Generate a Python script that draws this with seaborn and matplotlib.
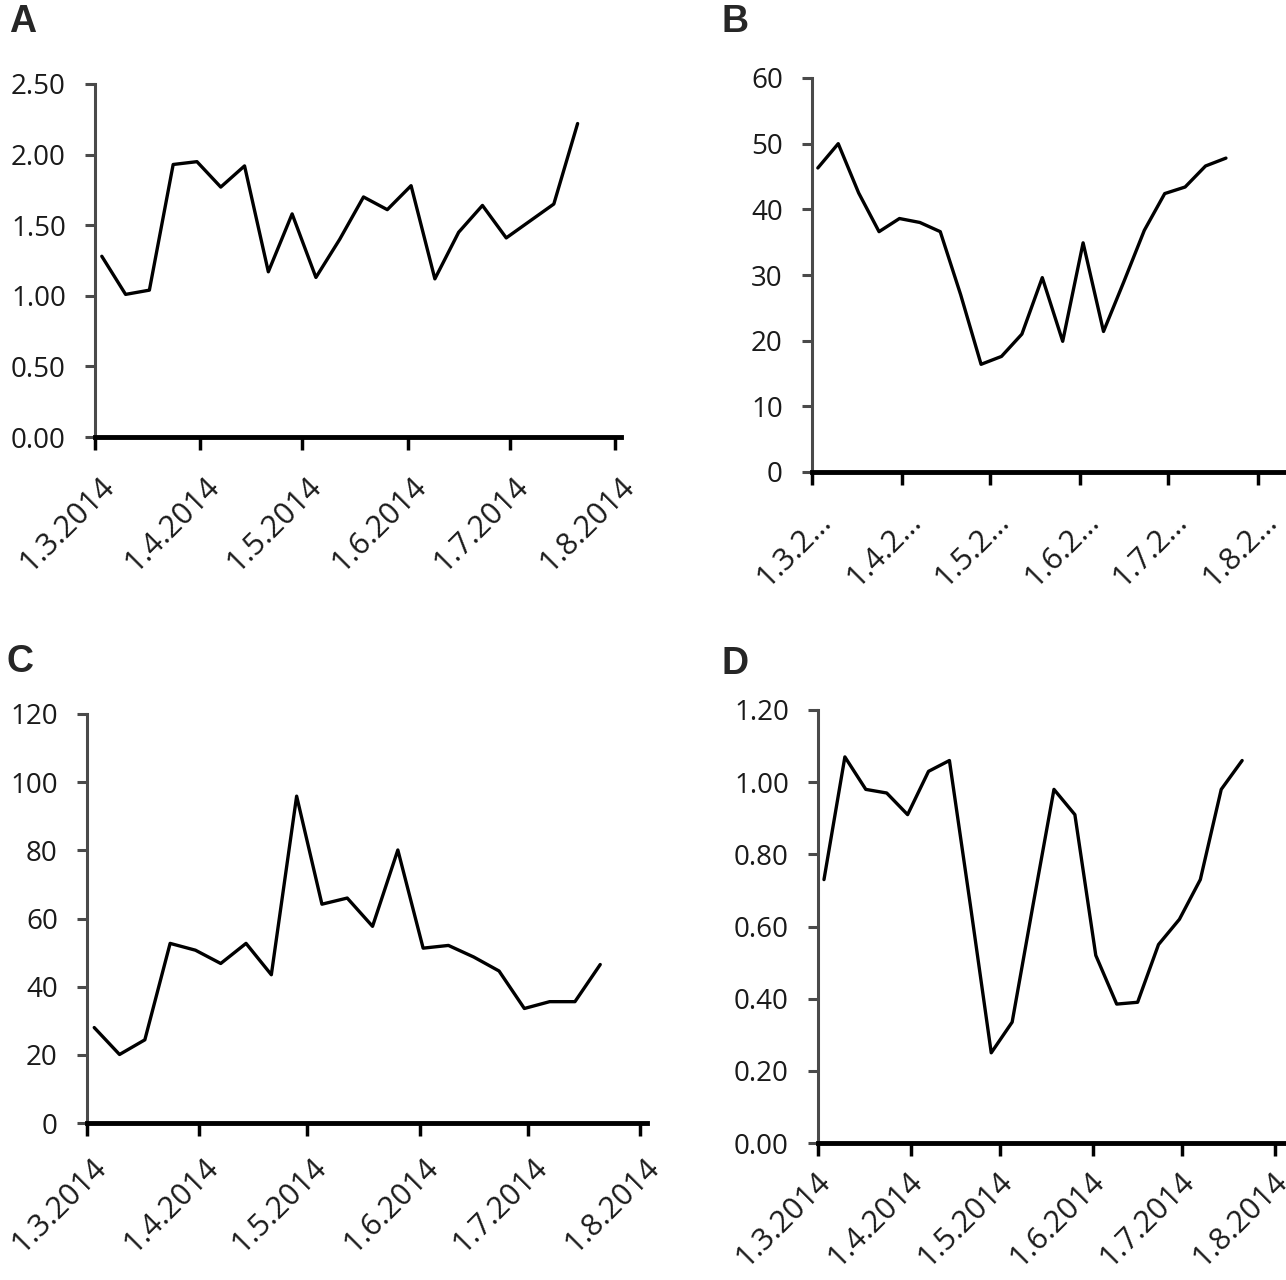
import matplotlib
matplotlib.use("Agg")
import matplotlib.pyplot as plt
import matplotlib.dates as mdates
import matplotlib.transforms as mtransforms
from matplotlib.ticker import FuncFormatter, MultipleLocator
import pandas as pd
import seaborn as sns

# weekly sampling dates
dates = ["2014-03-03", "2014-03-10", "2014-03-17", "2014-03-24", "2014-03-31",
         "2014-04-07", "2014-04-14", "2014-04-21", "2014-04-28", "2014-05-05",
         "2014-05-12", "2014-05-19", "2014-05-26", "2014-06-02", "2014-06-09",
         "2014-06-16", "2014-06-23", "2014-06-30", "2014-07-07", "2014-07-14",
         "2014-07-21"]

series_a = [1.28, 1.01, 1.04, 1.93, 1.95, 1.77, 1.92, 1.17, 1.58, 1.13, 1.40,
            1.70, 1.61, 1.78, 1.12, 1.45, 1.64, 1.41, 1.53, 1.65, 2.22]
series_b = [46.3, 50.0, 42.5, 36.6, 38.6, 38.0, 36.6, 27.0, 16.4, 17.6, 21.0,
            29.6, 19.9, 34.9, 21.4, 29.0, 36.8, 42.4, 43.4, 46.6, 47.8]
series_c = [28.0, 20.1, 24.4, 52.7, 50.7, 46.8, 52.7, 43.5, 95.9, 64.2, 66.0,
            57.7, 80.1, 51.3, 52.1, 48.7, 44.6, 33.6, 35.6, 35.6, 46.5]
series_d = [0.73, 1.07, 0.98, 0.97, 0.91, 1.03, 1.06, 0.66, 0.25, 0.335, 0.66,
            0.98, 0.91, 0.52, 0.385, 0.39, 0.55, 0.62, 0.73, 0.98, 1.06]

month_ticks = ["2014-03-01", "2014-04-01", "2014-05-01", "2014-06-01",
               "2014-07-01", "2014-08-01"]

df = pd.DataFrame({"date": pd.to_datetime(dates), "A": series_a, "B": series_b,
                   "C": series_c, "D": series_d})

sns.set_style("white")
plt.rcParams["font.family"] = ["Open Sans", "DejaVu Sans"]

W, H = 1286, 1280
fig = plt.figure(figsize=(W / 100, H / 100), dpi=100)

# panel, left, right, top, bottom (px), x of 1.8 tick, y max, y step, fmt,
# short labels, letter position (px), label pad, label shift (in)
panels = [
    ("A", 95, 621, 84, 437, 615, 2.5, 0.5, "{:.2f}", False, (9, 22), 16, 0.04),
    ("B", 812, 1286, 78, 472, 1258, 60, 10, "{:.0f}", True, (722, 22), 16, 0.04),
    ("C", 87, 647, 714, 1123, 640, 120, 20, "{:.0f}", False, (7, 662), 12, 0.04),
    ("D", 818, 1286, 710, 1143, 1275, 1.2, 0.2, "{:.2f}", False, (722, 664), 8, -0.03),
]

ticks = [mdates.date2num(pd.Timestamp(t)) for t in month_ticks]

for name, l, r, t, b, tick_end, ymax, ystep, fmt, short, lpos, xpad, shift in panels:
    ax = fig.add_axes([l / W, 1 - b / H, (r - l) / W, (b - t) / H])
    sns.lineplot(data=df, x="date", y=name, color="black", lw=2.4, ax=ax)

    # x range: 1.3 tick on the spine, axis runs a little past 1.8
    days_per_px = (ticks[-1] - ticks[0]) / (tick_end - l)
    ax.set_xlim(ticks[0], ticks[-1] + (r - tick_end) * days_per_px)
    ax.set_ylim(0, ymax)
    ax.yaxis.set_major_locator(MultipleLocator(ystep))
    ax.yaxis.set_major_formatter(FuncFormatter(lambda v, p, f=fmt: f.format(v)))
    ax.set_xticks(ticks)

    def xfmt(v, p, short=short):
        d = mdates.num2date(v)
        s = f"{d.day}.{d.month}.{d.year}"
        return s[:5] + "\u2026" if short else s
    ax.xaxis.set_major_formatter(FuncFormatter(xfmt))

    ax.set_xlabel("")
    ax.set_ylabel("")
    for side in ("top", "right"):
        ax.spines[side].set_visible(False)
    ax.spines["left"].set_color("#4a4a4a")
    ax.spines["left"].set_linewidth(2.2)
    ax.spines["bottom"].set_color("black")
    ax.spines["bottom"].set_linewidth(3.5)

    ax.tick_params(axis="y", left=True, direction="out", length=7, width=2.2,
                   color="#4a4a4a", labelsize=20, pad=14, labelcolor="#1a1a1a")
    ax.tick_params(axis="x", bottom=True, direction="out", length=9, width=2.5,
                   color="black", labelsize=22, pad=xpad, labelcolor="#1a1a1a")
    offset = mtransforms.ScaledTranslation(shift, 0, fig.dpi_scale_trans)
    for lab in ax.get_xticklabels():
        lab.set_rotation(45)
        lab.set_ha("right")
        lab.set_va("top")
        lab.set_rotation_mode("anchor")
        lab.set_transform(lab.get_transform() + offset)
    ax.grid(False)

    fig.text(lpos[0] / W, 1 - lpos[1] / H, name, fontsize=27,
             fontweight="bold", family="Liberation Sans",
             ha="left", va="center")

fig.savefig("out.png", dpi=100)
